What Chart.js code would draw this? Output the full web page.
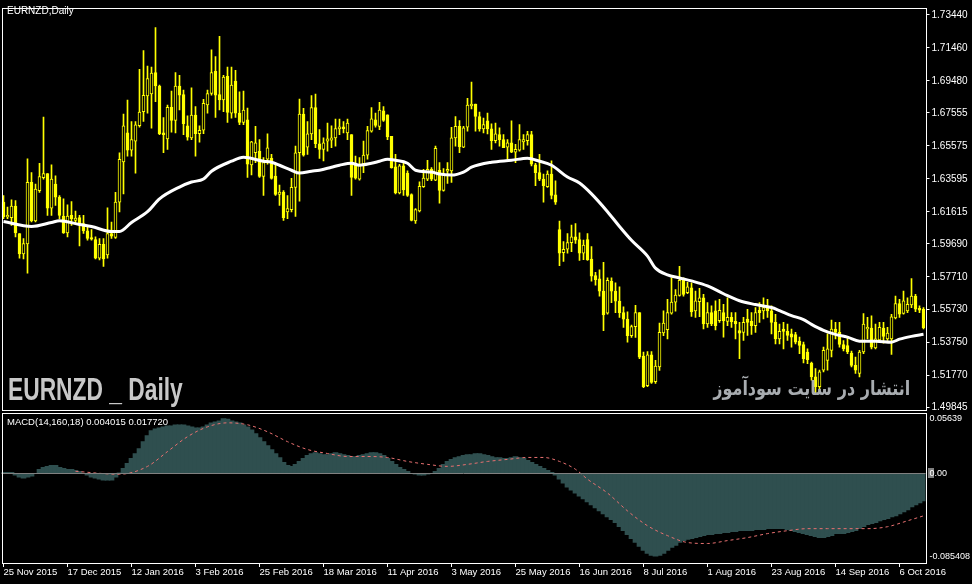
<!DOCTYPE html>
<html>
<head>
<meta charset="utf-8">
<title>EURNZD Daily</title>
<script src="https://cdn.jsdelivr.net/npm/chart.js@4.4.0/dist/chart.umd.min.js"></script>
<style>
  html, body { margin: 0; padding: 0; background: #000; }
  #wrap { position: relative; width: 972px; height: 584px; overflow: hidden; }
  #wrap canvas { position: absolute; left: 0; top: 0; }
  .txt { position: absolute; white-space: nowrap; font-family: 'Liberation Sans', Arial, sans-serif; }
  #sym { left: 7px; top: 6px; font-size: 10px; line-height: 10px; color: #fff; }
  #macdTitle { left: 7px; top: 416.5px; font-size: 9.5px; line-height: 10px; color: #fff; }
  #bigTitle { left: 8px; top: 374px; font-family: 'Liberation Sans Narrow', 'Liberation Sans', sans-serif;
              font-weight: bold; font-size: 31px; line-height: 31px; color: #c8c8c8;
              transform: scaleX(0.735); transform-origin: 0 0; }
  #fa { right: 62px; top: 378px; direction: rtl; font-family: 'DejaVu Sans', sans-serif;
        font-weight: bold; font-size: 20px; line-height: 20px; color: #a8acb0;
        transform: scaleX(0.8); transform-origin: 100% 0; }
</style>
</head>
<body>
<div id="wrap">
  <canvas id="chart" width="972" height="584"></canvas>
  <div class="txt" id="sym">EURNZD,Daily</div>
  <div class="txt" id="bigTitle">EURNZD _ Daily</div>
  <div class="txt" id="fa" dir="rtl" lang="fa">انتشار در سایت سودآموز</div>
  <div class="txt" id="macdTitle">MACD(14,160,18) 0.004015 0.017720</div>
</div>
<script>
/* ── Daily candles ── */
const opens = [
  1.6219,1.6130,1.6126,1.6195,1.6031,1.5908,1.5968,1.6338,1.6106,1.6288,
  1.6366,1.6391,1.6183,1.6328,1.6249,1.6136,1.6035,1.6140,1.6110,1.6126,
  1.6090,1.6047,1.6007,1.5995,1.5882,1.5966,1.5902,1.6031,1.6007,1.6219,
  1.6461,1.6635,1.6532,1.6585,1.6678,1.6763,1.6857,1.6870,1.6997,1.6916,
  1.6635,1.6599,1.6789,1.6710,1.6916,1.6866,1.6678,1.6605,1.6742,1.6631,
  1.6651,1.6803,1.6872,1.7005,1.6866,1.6833,1.6975,1.6754,1.6946,1.6754,
  1.6698,1.6714,1.6443,1.6516,1.6526,1.6374,1.6477,1.6482,1.6376,1.6265,
  1.6279,1.6160,1.6174,1.6308,1.6516,1.6748,1.6550,1.6629,1.6787,1.6570,
  1.6536,1.6586,1.6591,1.6605,1.6659,1.6671,1.6635,1.6625,1.6447,1.6358,
  1.6451,1.6502,1.6645,1.6714,1.6674,1.6768,1.6744,1.6615,1.6431,1.6275,
  1.6437,1.6392,1.6265,1.6106,1.6166,1.6312,1.6358,1.6417,1.6352,1.6411,
  1.6289,1.6405,1.6407,1.6605,1.6674,1.6550,1.6669,1.6797,1.6809,1.6734,
  1.6659,1.6708,1.6659,1.6589,1.6625,1.6595,1.6550,1.6575,1.6520,1.6532,
  1.6581,1.6589,1.6625,1.6443,1.6397,1.6358,1.6312,1.6388,1.6263,1.6055,
  1.5916,1.5936,1.5976,1.6011,1.5995,1.5912,1.5995,1.5877,1.5778,1.5758,
  1.5685,1.5552,1.5744,1.5685,1.5625,1.5556,1.5516,1.5417,1.5471,1.5556,
  1.5294,1.5116,1.5302,1.5140,1.5229,1.5433,1.5453,1.5552,1.5619,1.5659,
  1.5750,1.5675,1.5704,1.5566,1.5622,1.5645,1.5487,1.5556,1.5566,1.5507,
  1.5556,1.5503,1.5527,1.5503,1.5447,1.5437,1.5517,1.5503,1.5477,1.5570,
  1.5566,1.5590,1.5566,1.5497,1.5398,1.5457,1.5443,1.5428,1.5424,1.5384,
  1.5364,1.5319,1.5253,1.5170,1.5111,1.5210,1.5269,1.5329,1.5457,1.5437,
  1.5364,1.5358,1.5313,1.5239,1.5190,1.5319,1.5457,1.5463,1.5344,1.5392,
  1.5463,1.5398,1.5398,1.5523,1.5610,1.5550,1.5566,1.5602,1.5655,1.5582,
  1.5576
];
const highs = [
  1.6259,1.6189,1.6233,1.6229,1.6031,1.6001,1.6480,1.6397,1.6328,1.6453,
  1.6730,1.6391,1.6443,1.6377,1.6259,1.6239,1.6203,1.6223,1.6166,1.6140,
  1.6140,1.6080,1.6055,1.6011,1.6001,1.6001,1.6185,1.6100,1.6278,1.6516,
  1.6748,1.6833,1.6704,1.6704,1.7017,1.7130,1.7037,1.7031,1.7268,1.6922,
  1.6728,1.6803,1.6886,1.6997,1.6981,1.6892,1.6738,1.6906,1.6793,1.6678,
  1.6837,1.6892,1.7134,1.7094,1.7215,1.6981,1.7031,1.7031,1.7011,1.6882,
  1.6886,1.6784,1.6585,1.6674,1.6595,1.6487,1.6629,1.6506,1.6447,1.6322,
  1.6289,1.6259,1.6362,1.6556,1.6839,1.6783,1.6704,1.6859,1.6869,1.6655,
  1.6605,1.6694,1.6678,1.6718,1.6718,1.6704,1.6718,1.6625,1.6496,1.6487,
  1.6586,1.6674,1.6787,1.6754,1.6819,1.6793,1.6744,1.6615,1.6506,1.6447,
  1.6463,1.6407,1.6269,1.6180,1.6342,1.6417,1.6471,1.6427,1.6556,1.6457,
  1.6421,1.6457,1.6669,1.6734,1.6710,1.6675,1.6843,1.6940,1.6809,1.6760,
  1.6724,1.6754,1.6690,1.6694,1.6665,1.6625,1.6595,1.6708,1.6566,1.6685,
  1.6625,1.6645,1.6645,1.6453,1.6506,1.6388,1.6407,1.6467,1.6348,1.6106,
  1.5982,1.6031,1.6081,1.6091,1.6035,1.5991,1.6031,1.5952,1.5797,1.5813,
  1.5857,1.5764,1.5764,1.5734,1.5710,1.5591,1.5560,1.5481,1.5599,1.5556,
  1.5318,1.5322,1.5322,1.5269,1.5493,1.5566,1.5635,1.5764,1.5694,1.5833,
  1.5764,1.5738,1.5734,1.5685,1.5701,1.5665,1.5616,1.5596,1.5626,1.5635,
  1.5606,1.5645,1.5556,1.5556,1.5497,1.5527,1.5576,1.5556,1.5586,1.5616,
  1.5645,1.5635,1.5596,1.5546,1.5487,1.5497,1.5487,1.5457,1.5437,1.5408,
  1.5378,1.5338,1.5259,1.5220,1.5210,1.5348,1.5428,1.5511,1.5497,1.5497,
  1.5388,1.5408,1.5325,1.5289,1.5329,1.5550,1.5527,1.5536,1.5487,1.5497,
  1.5497,1.5467,1.5546,1.5655,1.5635,1.5685,1.5645,1.5760,1.5665,1.5596,
  1.5586
];
const lows = [
  1.6120,1.6120,1.6080,1.6011,1.5882,1.5878,1.5793,1.6100,1.6100,1.6278,
  1.6358,1.6140,1.6140,1.6199,1.6120,1.6031,1.6011,1.6080,1.6090,1.5956,
  1.6031,1.5991,1.5991,1.5878,1.5872,1.5833,1.5882,1.6001,1.6001,1.6160,
  1.6268,1.6496,1.6496,1.6393,1.6670,1.6704,1.6754,1.6664,1.6823,1.6625,
  1.6516,1.6536,1.6639,1.6635,1.6773,1.6625,1.6591,1.6595,1.6496,1.6579,
  1.6631,1.6754,1.6862,1.6728,1.6773,1.6763,1.6698,1.6724,1.6728,1.6684,
  1.6684,1.6368,1.6383,1.6457,1.6368,1.6259,1.6447,1.6358,1.6259,1.6199,
  1.6110,1.6120,1.6160,1.6134,1.6225,1.6496,1.6506,1.6595,1.6546,1.6482,
  1.6467,1.6526,1.6546,1.6556,1.6625,1.6635,1.6595,1.6259,1.6358,1.6352,
  1.6397,1.6477,1.6639,1.6669,1.6655,1.6704,1.6595,1.6423,1.6269,1.6269,
  1.6259,1.6253,1.6106,1.6091,1.6160,1.6308,1.6348,1.6348,1.6348,1.6213,
  1.6285,1.6332,1.6338,1.6556,1.6516,1.6546,1.6645,1.6779,1.6645,1.6645,
  1.6635,1.6629,1.6536,1.6575,1.6556,1.6546,1.6477,1.6516,1.6457,1.6526,
  1.6536,1.6562,1.6437,1.6318,1.6348,1.6219,1.6308,1.6239,1.6205,1.5837,
  1.5863,1.5912,1.5922,1.5972,1.5869,1.5873,1.5869,1.5744,1.5720,1.5655,
  1.5447,1.5546,1.5615,1.5556,1.5526,1.5467,1.5378,1.5407,1.5407,1.5279,
  1.5104,1.5110,1.5130,1.5130,1.5209,1.5417,1.5397,1.5546,1.5564,1.5655,
  1.5655,1.5669,1.5532,1.5527,1.5531,1.5457,1.5467,1.5477,1.5451,1.5497,
  1.5408,1.5477,1.5467,1.5398,1.5279,1.5388,1.5418,1.5424,1.5437,1.5497,
  1.5517,1.5527,1.5428,1.5368,1.5368,1.5338,1.5388,1.5348,1.5368,1.5309,
  1.5253,1.5249,1.5150,1.5071,1.5071,1.5200,1.5210,1.5289,1.5398,1.5348,
  1.5325,1.5309,1.5230,1.5190,1.5170,1.5309,1.5398,1.5338,1.5338,1.5388,
  1.5372,1.5388,1.5305,1.5517,1.5527,1.5546,1.5556,1.5586,1.5562,1.5556,
  1.5457
];
const closes = [
  1.6130,1.6140,1.6195,1.6035,1.5908,1.5970,1.6338,1.6106,1.6298,1.6373,
  1.6391,1.6183,1.6358,1.6249,1.6140,1.6035,1.6136,1.6120,1.6124,1.6090,
  1.6047,1.6001,1.5997,1.5882,1.5966,1.5878,1.6031,1.6015,1.6219,1.6476,
  1.6678,1.6532,1.6595,1.6684,1.6760,1.6861,1.6961,1.6995,1.6918,1.6631,
  1.6625,1.6789,1.6710,1.6916,1.6862,1.6690,1.6609,1.6742,1.6631,1.6651,
  1.6813,1.6872,1.6997,1.6862,1.6833,1.6971,1.6758,1.6922,1.6754,1.6698,
  1.6773,1.6447,1.6581,1.6575,1.6374,1.6457,1.6546,1.6362,1.6265,1.6279,
  1.6126,1.6180,1.6308,1.6516,1.6748,1.6502,1.6629,1.6787,1.6570,1.6536,
  1.6575,1.6599,1.6605,1.6661,1.6671,1.6661,1.6694,1.6368,1.6364,1.6447,
  1.6502,1.6649,1.6720,1.6680,1.6773,1.6710,1.6611,1.6427,1.6275,1.6437,
  1.6292,1.6259,1.6110,1.6174,1.6314,1.6364,1.6417,1.6358,1.6542,1.6289,
  1.6384,1.6417,1.6605,1.6674,1.6552,1.6665,1.6803,1.6809,1.6734,1.6659,
  1.6685,1.6659,1.6589,1.6629,1.6595,1.6546,1.6575,1.6520,1.6536,1.6595,
  1.6595,1.6625,1.6447,1.6397,1.6358,1.6318,1.6388,1.6259,1.6219,1.5912,
  1.5936,1.5976,1.6011,1.5991,1.5912,1.5962,1.5873,1.5774,1.5754,1.5685,
  1.5542,1.5750,1.5685,1.5625,1.5556,1.5516,1.5417,1.5471,1.5556,1.5288,
  1.5110,1.5302,1.5136,1.5235,1.5437,1.5493,1.5556,1.5619,1.5661,1.5750,
  1.5665,1.5710,1.5560,1.5626,1.5645,1.5487,1.5556,1.5487,1.5477,1.5570,
  1.5507,1.5527,1.5501,1.5487,1.5432,1.5497,1.5497,1.5477,1.5556,1.5556,
  1.5586,1.5566,1.5497,1.5398,1.5443,1.5443,1.5418,1.5408,1.5378,1.5358,
  1.5279,1.5273,1.5170,1.5111,1.5200,1.5329,1.5338,1.5457,1.5437,1.5364,
  1.5338,1.5319,1.5239,1.5210,1.5319,1.5487,1.5467,1.5348,1.5398,1.5467,
  1.5412,1.5432,1.5531,1.5610,1.5546,1.5626,1.5606,1.5655,1.5576,1.5570,
  1.5463
];

/* ── Moving average (white line), sampled at bar indexes ── */
const maBars = [0,7,12,14,19,22,27,29,32,36,39,44,47,50,52,57,60,65,67,69,72,74,77,79,82,84,87,89,92,94,
  96,98,101,103,107,109,112,115,117,122,127,131,134,137,141,144,147,151,154,157,161,163,166,169,172,
  176,180,184,188,192,194,197,200,202,205,208,211,214,218,222,224,227,230];
const maValues = [1.6103,1.6073,1.6097,1.6108,1.6085,1.6073,1.6043,1.6043,1.6097,1.6162,1.6239,1.6310,
  1.6340,1.6358,1.6405,1.6465,1.6489,1.6465,1.6459,1.6441,1.6411,1.6394,1.6405,1.6411,1.6429,1.6441,
  1.6453,1.6441,1.6453,1.6465,1.6477,1.6471,1.6453,1.6411,1.6400,1.6388,1.6382,1.6400,1.6429,1.6459,
  1.6471,1.6483,1.6465,1.6441,1.6370,1.6334,1.6269,1.6162,1.6073,1.5990,1.5895,1.5823,1.5782,1.5764,
  1.5746,1.5716,1.5669,1.5627,1.5604,1.5586,1.5568,1.5538,1.5514,1.5485,1.5449,1.5425,1.5408,1.5384,
  1.5384,1.5378,1.5396,1.5413,1.5425];

/* ── MACD histogram (one value per bar) ── */
const macdHist = [
  0.0010,0.0010,0.0010,-0.0020,-0.0041,-0.0051,-0.0041,-0.0031,0.0000,0.0041,
  0.0061,0.0071,0.0082,0.0082,0.0061,0.0051,0.0041,0.0041,0.0031,0.0020,
  0.0000,-0.0020,-0.0041,-0.0051,-0.0061,-0.0071,-0.0071,-0.0071,-0.0041,0.0005,
  0.0051,0.0102,0.0153,0.0204,0.0255,0.0326,0.0388,0.0439,0.0459,0.0469,
  0.0479,0.0490,0.0490,0.0500,0.0500,0.0500,0.0490,0.0479,0.0469,0.0469,
  0.0479,0.0500,0.0520,0.0530,0.0541,0.0564,0.0560,0.0541,0.0530,0.0520,
  0.0500,0.0479,0.0449,0.0408,0.0367,0.0326,0.0286,0.0245,0.0204,0.0163,
  0.0112,0.0082,0.0071,0.0092,0.0122,0.0153,0.0184,0.0204,0.0214,0.0204,
  0.0194,0.0194,0.0204,0.0214,0.0204,0.0194,0.0184,0.0173,0.0173,0.0184,
  0.0194,0.0204,0.0214,0.0214,0.0204,0.0184,0.0153,0.0122,0.0092,0.0061,
  0.0041,0.0020,0.0000,-0.0010,-0.0020,-0.0020,-0.0010,0.0000,0.0020,0.0051,
  0.0092,0.0122,0.0143,0.0163,0.0173,0.0184,0.0194,0.0194,0.0204,0.0204,
  0.0194,0.0184,0.0173,0.0163,0.0163,0.0153,0.0153,0.0163,0.0173,0.0163,
  0.0153,0.0133,0.0112,0.0092,0.0071,0.0051,0.0031,0.0010,-0.0020,-0.0061,
  -0.0102,-0.0143,-0.0173,-0.0204,-0.0235,-0.0265,-0.0296,-0.0326,-0.0357,-0.0388,
  -0.0418,-0.0449,-0.0479,-0.0510,-0.0551,-0.0592,-0.0632,-0.0673,-0.0714,-0.0755,
  -0.0796,-0.0826,-0.0847,-0.0854,-0.0847,-0.0826,-0.0796,-0.0765,-0.0745,-0.0714,
  -0.0694,-0.0683,-0.0673,-0.0663,-0.0653,-0.0643,-0.0632,-0.0632,-0.0622,-0.0622,
  -0.0612,-0.0612,-0.0602,-0.0602,-0.0592,-0.0592,-0.0592,-0.0592,-0.0581,-0.0581,
  -0.0581,-0.0571,-0.0571,-0.0571,-0.0571,-0.0571,-0.0581,-0.0592,-0.0602,-0.0612,
  -0.0622,-0.0632,-0.0643,-0.0653,-0.0663,-0.0663,-0.0653,-0.0643,-0.0622,-0.0622,
  -0.0622,-0.0612,-0.0602,-0.0592,-0.0571,-0.0551,-0.0530,-0.0520,-0.0510,-0.0490,
  -0.0479,-0.0469,-0.0449,-0.0439,-0.0418,-0.0398,-0.0377,-0.0347,-0.0326,-0.0306,
  -0.0286
];

/* ── MACD signal (dashed line), sampled at bar indexes ── */
const signalBars = [18,29,36,41,46,51,56,61,66,71,76,81,86,91,96,101,106,111,116,121,126,131,135,139,
  143,146,151,156,161,166,171,176,181,186,191,196,201,206,211,216,221,226,230];
const signalValues = [0.0020,-0.0010,0.0071,0.0224,0.0377,0.0479,0.0520,0.0500,0.0428,0.0326,0.0245,
  0.0204,0.0173,0.0173,0.0163,0.0122,0.0092,0.0071,0.0092,0.0122,0.0143,0.0163,0.0163,0.0122,0.0041,
  -0.0061,-0.0204,-0.0388,-0.0541,-0.0643,-0.0714,-0.0724,-0.0694,-0.0663,-0.0622,-0.0592,-0.0571,
  -0.0571,-0.0571,-0.0571,-0.0551,-0.0490,-0.0439];

/* ── Axis labels ── */
const dateTicks = ['25 Nov 2015', '17 Dec 2015', '12 Jan 2016', '3 Feb 2016', '25 Feb 2016',
  '18 Mar 2016', '11 Apr 2016', '3 May 2016', '25 May 2016', '16 Jun 2016', '8 Jul 2016',
  '1 Aug 2016', '23 Aug 2016', '14 Sep 2016', '6 Oct 2016'];
const BARS_PER_DATE_TICK = 16;
const priceTicks = [1.73440, 1.71460, 1.69480, 1.67555, 1.65575, 1.63595, 1.61615,
  1.59690, 1.57710, 1.55730, 1.53750, 1.51770, 1.49845];
const macdTicks = [0.05639, 0, -0.085408];

const CANDLE = '#FFFF00';
const barIndex = opens.map((_, i) => i);

/* Frames, zero level and the grey level box, MT4 style */
const paneFrames = {
  id: 'paneFrames',
  beforeDraw(chart) {
    const { ctx } = chart;
    ctx.save();
    ctx.fillStyle = '#000';
    ctx.fillRect(0, 0, chart.width, chart.height);
    const y0 = Math.round(chart.scales.y2.getPixelForValue(0));
    ctx.fillStyle = '#808080';
    ctx.fillRect(Math.round(chart.chartArea.right) + 2, y0 - 5, 6, 10);
    ctx.restore();
  },
  afterDatasetsDraw(chart) {
    const { ctx, chartArea } = chart;
    const y0 = Math.round(chart.scales.y2.getPixelForValue(0)) + 0.5;
    ctx.save();
    ctx.strokeStyle = '#808080';
    ctx.lineWidth = 1;
    ctx.beginPath();
    ctx.moveTo(chartArea.left, y0);
    ctx.lineTo(chartArea.right, y0);
    ctx.stroke();
    ctx.restore();
  },
  afterDraw(chart) {
    const { ctx, chartArea } = chart;
    const L = Math.round(chartArea.left) + 0.5;
    const R = Math.round(chartArea.right) + 0.5;
    const split = Math.round(chart.scales.y.bottom);
    ctx.save();
    ctx.strokeStyle = '#FFFFFF';
    ctx.lineWidth = 1;
    ctx.strokeRect(L, chartArea.top + 0.5, R - L, split - 1.5 - (chartArea.top + 0.5));
    ctx.strokeRect(L, split + 1.5, R - L, Math.round(chartArea.bottom) + 0.5 - (split + 1.5));
    ctx.restore();
  }
};

Chart.defaults.font.family = "'Liberation Sans', Arial, sans-serif";
Chart.defaults.font.size = 10;
Chart.defaults.color = '#FFFFFF';

new Chart(document.getElementById('chart'), {
  type: 'bar',
  data: {
    labels: barIndex,
    datasets: [
      {
        type: 'line',
        label: 'MA',
        data: maBars.map((b, k) => ({ x: b, y: maValues[k] })),
        yAxisID: 'y',
        borderColor: '#FFFFFF',
        borderWidth: 3,
        pointRadius: 0,
        cubicInterpolationMode: 'monotone',
        order: 0
      },
      {
        label: 'Body',
        data: opens.map((o, i) => [o, closes[i]]),
        yAxisID: 'y',
        backgroundColor: opens.map((o, i) => closes[i] >= o ? '#000000' : CANDLE),
        borderColor: CANDLE,
        borderWidth: 1,
        borderSkipped: false,
        barThickness: 3,
        minBarLength: 1,
        grouped: false,
        order: 1
      },
      {
        label: 'Wick',
        data: lows.map((l, i) => [l, highs[i]]),
        yAxisID: 'y',
        backgroundColor: CANDLE,
        borderWidth: 0,
        barThickness: 1,
        grouped: false,
        order: 2
      },
      {
        type: 'line',
        label: 'Signal',
        data: signalBars.map((b, k) => ({ x: b, y: signalValues[k] })),
        yAxisID: 'y2',
        borderColor: '#E87070',
        borderWidth: 1,
        borderDash: [3, 3],
        pointRadius: 0,
        cubicInterpolationMode: 'monotone',
        order: 0
      },
      {
        label: 'MACD',
        data: macdHist,
        yAxisID: 'y2',
        backgroundColor: '#2F4F4F',
        borderWidth: 0,
        barThickness: 5,
        grouped: false,
        order: 3
      }
    ]
  },
  options: {
    responsive: false,
    animation: false,
    devicePixelRatio: 1,
    layout: { autoPadding: false, padding: { left: 1.5, top: 2, right: 0, bottom: 0 } },
    plugins: { legend: { display: false }, tooltip: { enabled: false } },
    scales: {
      x: {
        type: 'category',
        offset: true,
        border: { display: false },
        grid: { offset: false, drawOnChartArea: false, drawTicks: true, tickLength: 4, color: '#FFFFFF' },
        afterBuildTicks: function(scale) {
          scale.ticks = scale.ticks.filter(t => t.value % BARS_PER_DATE_TICK === 0);
        },
        afterFit: function(scale) { scale.height = 21; },
        ticks: {
          autoSkip: false,
          maxRotation: 0,
          align: 'start',
          padding: 0,
          color: '#FFFFFF',
          font: { size: 9.5 },
          callback: function(v) { return dateTicks[v / BARS_PER_DATE_TICK] || ''; }
        }
      },
      y: {
        type: 'linear',
        position: 'right',
        stack: 'panes',
        stackWeight: 408,
        min: 1.49607,
        max: 1.73856,
        border: { display: false },
        grid: { drawOnChartArea: false, drawTicks: true, tickLength: 4, color: '#FFFFFF' },
        afterBuildTicks: function(scale) { scale.ticks = priceTicks.map(v => ({ value: v })); },
        afterFit: function(scale) { scale.width = 46.5; },
        ticks: {
          autoSkip: false,
          padding: 2,
          color: '#FFFFFF',
          callback: function(v) { return v.toFixed(5); }
        }
      },
      y2: {
        type: 'linear',
        position: 'right',
        stack: 'panes',
        stackWeight: 153,
        min: -0.09251,
        max: 0.06355,
        border: { display: false },
        grid: { drawOnChartArea: false, drawTicks: true, tickLength: 4, color: 'rgba(0,0,0,0)' },
        afterBuildTicks: function(scale) { scale.ticks = macdTicks.map(v => ({ value: v })); },
        afterFit: function(scale) { scale.width = 46.5; },
        ticks: {
          autoSkip: false,
          padding: 0,
          color: '#FFFFFF',
          font: { size: 9 },
          callback: function(v) { return v === 0 ? '0.00' : String(v); }
        }
      }
    }
  },
  plugins: [paneFrames]
});
</script>
</body>
</html>
